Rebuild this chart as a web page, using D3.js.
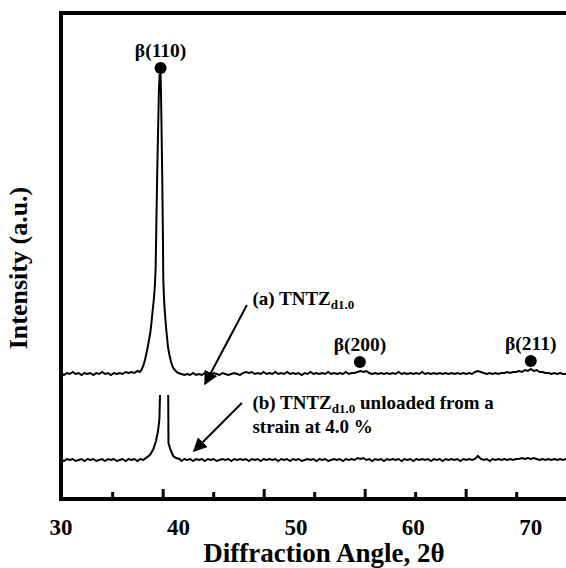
<!DOCTYPE html>
<html><head><meta charset="utf-8">
<script src="https://cdn.jsdelivr.net/npm/d3@7"></script>
<style>
html,body{margin:0;padding:0;background:#fff;}
svg text{font-family:"Liberation Serif","Times New Roman",serif;font-weight:bold;fill:#000;}
</style></head>
<body><svg id="c" width="566" height="568"></svg>
<script>
// ---- data (2θ in degrees, intensity in arbitrary units) ----
const xTickLabels = [30, 40, 50, 60, 70];
const xMinorTicks = [34.4, 43.0, 51.6, 60.2, 68.8];
const xMajorTicks = [38.7, 47.3, 55.9, 64.5];

const seriesA = [
[30.00,126],[30.25,124],[30.50,126],[30.75,125],[31.00,127],[31.25,125],[31.50,126],[31.75,124],
[32.00,126],[32.25,125],[32.50,126],[32.75,124],[33.00,126],[33.25,125],[33.50,127],[33.75,125],
[34.00,126],[34.25,124],[34.50,126],[34.75,125],[35.00,126],[35.25,125],[35.50,127],[35.75,126],
[36.00,127],[36.25,126],[36.50,128],[36.70,127],[36.85,129],[37.00,133],[37.15,139],[37.30,147],
[37.45,156],[37.60,166],[37.70,176],[37.80,188],[37.90,199],[38.00,214],[38.06,232],[38.10,260],
[38.14,290],[38.20,330],[38.28,376],[38.34,410],[38.40,424],[38.48,424],[38.52,402],[38.56,372],
[38.62,322],[38.68,260],[38.71,220],[38.78,198],[38.85,186],[38.95,171],[39.05,159],[39.11,152],
[39.25,143],[39.40,136],[39.55,131],[39.70,129],[39.85,127],[40.00,126],[40.25,125],[40.50,124],
[40.75,125],[41.00,124],[41.25,126],[41.50,124],[41.75,125],[42.00,124],[42.25,126],[42.50,125],
[42.75,124],[43.00,126],[43.25,125],[43.50,124],[43.75,126],[44.00,125],[44.25,124],[44.50,125],
[44.75,126],[45.00,125],[45.25,124],[45.50,126],[45.75,127],[46.00,126],[46.25,127],[46.50,125],
[46.75,126],[47.00,125],[47.25,127],[47.50,125],[47.75,126],[48.00,125],[48.25,127],[48.50,125],
[48.75,126],[49.00,125],[49.25,127],[49.50,125],[49.75,126],[50.00,125],[50.25,126],[50.50,124],
[50.75,126],[51.00,125],[51.25,127],[51.50,125],[51.75,126],[52.00,125],[52.25,126],[52.50,125],
[52.75,127],[53.00,125],[53.25,126],[53.50,125],[53.75,126],[54.00,125],[54.25,127],[54.50,125],
[54.75,126],[55.00,126],[55.25,127],[55.50,128],[55.75,127],[56.00,128],[56.25,126],[56.50,125],
[56.75,126],[57.00,125],[57.25,126],[57.50,125],[57.75,126],[58.00,125],[58.25,126],[58.50,125],
[58.75,127],[59.00,125],[59.25,126],[59.50,125],[59.75,126],[60.00,125],[60.25,126],[60.50,125],
[60.75,127],[61.00,125],[61.25,126],[61.50,125],[61.75,126],[62.00,125],[62.25,126],[62.50,125],
[62.75,126],[63.00,125],[63.25,126],[63.50,125],[63.75,126],[64.00,125],[64.25,126],[64.50,125],
[64.75,126],[65.00,125],[65.25,127],[65.50,128],[65.75,127],[66.00,126],[66.25,125],[66.50,126],
[66.75,125],[67.00,126],[67.25,125],[67.50,126],[67.75,126],[68.00,127],[68.25,126],[68.50,127],
[68.75,127],[69.00,128],[69.25,127],[69.50,129],[69.75,128],[70.00,130],[70.25,128],[70.50,129],
[70.75,127],[71.00,127],[71.25,126],[71.50,126],[71.75,125],[72.00,126],[72.25,125],[72.50,126],
[72.75,125],[73.00,125]
];

const seriesB = [
[30.00,40],[30.25,38],[30.50,40],[30.75,39],[31.00,40],[31.25,38],[31.50,39],[31.75,40],
[32.00,38],[32.25,40],[32.50,39],[32.75,40],[33.00,38],[33.25,39],[33.50,40],[33.75,38],
[34.00,40],[34.25,39],[34.50,40],[34.75,38],[35.00,39],[35.25,40],[35.50,38],[35.75,40],
[36.00,39],[36.25,40],[36.50,38],[36.75,40],[37.00,39],[37.23,41],[37.57,44],[37.87,50],
[38.09,58],[38.26,68],[38.38,80],[38.43,104],[38.80,null],[39.13,104],[39.15,56],[39.30,50],
[39.55,43],[39.80,41],[40.10,40],[40.25,38],[40.50,40],[40.75,39],[41.00,40],[41.25,38],
[41.50,40],[41.75,39],[42.00,40],[42.25,38],[42.50,40],[42.75,39],[43.00,40],[43.25,38],
[43.50,39],[43.75,40],[44.00,39],[44.25,40],[44.50,38],[44.75,40],[45.00,39],[45.25,40],
[45.50,39],[45.75,40],[46.00,38],[46.25,40],[46.50,39],[46.75,40],[47.00,38],[47.25,40],
[47.50,39],[47.75,40],[48.00,39],[48.25,40],[48.50,38],[48.75,40],[49.00,39],[49.25,40],
[49.50,38],[49.75,40],[50.00,39],[50.25,40],[50.50,38],[50.75,39],[51.00,40],[51.25,39],
[51.50,40],[51.75,38],[52.00,40],[52.25,39],[52.50,40],[52.75,38],[53.00,39],[53.25,40],
[53.50,39],[53.75,40],[54.00,38],[54.25,40],[54.50,39],[54.75,40],[55.00,39],[55.25,41],
[55.50,40],[55.75,41],[56.00,39],[56.25,40],[56.50,38],[56.75,40],[57.00,39],[57.25,40],
[57.50,38],[57.75,40],[58.00,39],[58.25,40],[58.50,39],[58.75,40],[59.00,38],[59.25,40],
[59.50,39],[59.75,40],[60.00,38],[60.25,40],[60.50,39],[60.75,40],[61.00,39],[61.25,40],
[61.50,38],[61.75,40],[62.00,39],[62.25,40],[62.50,38],[62.75,40],[63.00,39],[63.25,40],
[63.50,39],[63.75,40],[64.00,38],[64.25,40],[64.50,39],[64.75,40],[65.00,39],[65.25,40],
[65.50,43],[65.75,40],[66.00,39],[66.25,40],[66.50,38],[66.75,40],[67.00,39],[67.25,40],
[67.50,39],[67.75,40],[68.00,39],[68.25,40],[68.50,39],[68.75,40],[69.00,40],[69.25,41],
[69.50,40],[69.75,41],[70.00,40],[70.25,41],[70.50,40],[70.75,39],[71.00,40],[71.25,39],
[71.50,40],[71.75,39],[72.00,40],[72.25,39],[72.50,40],[72.75,39],[73.00,40]
];

const peakLabels = ["β(110)", "β(200)", "β(211)"];
const peakAngles = [38.48, 55.45, 70.0];
const peakDotValues = [431, 137, 138];

// ---- layout ----
const svg = d3.select("#c");
const x = d3.scaleLinear().domain([30, 73]).range([61, 566]);
const y = d3.scaleLinear().domain([0, 486]).range([499, 13]);

// axes frame (left, bottom, top)
const frame = svg.append("g").attr("stroke", "#000").attr("stroke-width", 4).attr("fill", "none");
frame.append("line").attr("x1", x(30)).attr("x2", x(30)).attr("y1", y(486) - 2).attr("y2", y(0) + 2);
frame.append("line").attr("x1", x(30) - 2).attr("x2", x(73)).attr("y1", y(0)).attr("y2", y(0));
frame.append("line").attr("x1", x(30) - 2).attr("x2", x(73)).attr("y1", y(486)).attr("y2", y(486));

// inward tick marks
svg.append("g").selectAll("line.mn").data(xMinorTicks).join("line")
  .attr("x1", d => x(d)).attr("x2", d => x(d)).attr("y1", y(0)).attr("y2", y(0) - 7)
  .attr("stroke", "#000").attr("stroke-width", 3);
svg.append("g").selectAll("line.mj").data(xMajorTicks).join("line")
  .attr("x1", d => x(d)).attr("x2", d => x(d)).attr("y1", y(0)).attr("y2", y(0) - 10)
  .attr("stroke", "#000").attr("stroke-width", 3);

// tick labels
svg.append("g").selectAll("text").data(xTickLabels).join("text")
  .attr("x", d => x(d)).attr("y", 535).attr("text-anchor", "middle")
  .attr("font-size", 23).text(d => d);

// axis titles
svg.append("text").attr("x", 324).attr("y", 562).attr("text-anchor", "middle")
  .attr("font-size", 27).text("Diffraction Angle, 2θ");
svg.append("text").attr("transform", "translate(27,268) rotate(-90)").attr("text-anchor", "middle")
  .attr("font-size", 26).text("Intensity (a.u.)");

// traces
const line = d3.line().defined(d => d[1] != null).x(d => x(d[0])).y(d => y(d[1]));
[seriesA, seriesB].forEach(s => {
  svg.append("path").datum(s).attr("d", line).attr("fill", "none")
    .attr("stroke", "#000").attr("stroke-width", 2).attr("stroke-linejoin", "miter");
});

// peak markers
const pk = svg.append("g");
peakLabels.forEach((lab, i) => {
  pk.append("circle").attr("cx", x(peakAngles[i])).attr("cy", y(peakDotValues[i])).attr("r", 6).attr("fill", "#000");
  pk.append("text").attr("x", x(peakAngles[i])).attr("y", y(peakDotValues[i]) - 11)
    .attr("text-anchor", "middle").attr("font-size", 19.5).text(lab);
});

// arrows
svg.append("defs").append("marker").attr("id", "ah").attr("viewBox", "0 0 10 10")
  .attr("refX", 9).attr("refY", 5).attr("markerWidth", 14).attr("markerHeight", 14)
  .attr("markerUnits", "userSpaceOnUse").attr("orient", "auto")
  .append("path").attr("d", "M0,0 L10,5 L0,10 Z").attr("fill", "#000");

const arrows = [
  {from: [45.83, 194], to: [42.26, 115]},
  {from: [45.40, 96], to: [41.32, 48]}
];
arrows.forEach(a => {
  svg.append("line").attr("x1", x(a.from[0])).attr("y1", y(a.from[1]))
    .attr("x2", x(a.to[0])).attr("y2", y(a.to[1]))
    .attr("stroke", "#000").attr("stroke-width", 2).attr("marker-end", "url(#ah)");
});

// annotation texts
function tntz(xPos, yPos, pre, post) {
  const tx = svg.append("text").attr("x", xPos).attr("y", yPos).attr("font-size", 19);
  tx.append("tspan").text(pre + "TNTZ");
  tx.append("tspan").attr("font-size", 13).attr("dy", 4).text("d1.0");
  if (post) tx.append("tspan").attr("dy", -4).text(post);
}
tntz(x(46.3), 305, "(a) ", "");
tntz(x(46.3), 409, "(b) ", " unloaded from a");
svg.append("text").attr("x", x(46.3)).attr("y", 433).attr("font-size", 19).text("strain at 4.0 %");
</script></body></html>
